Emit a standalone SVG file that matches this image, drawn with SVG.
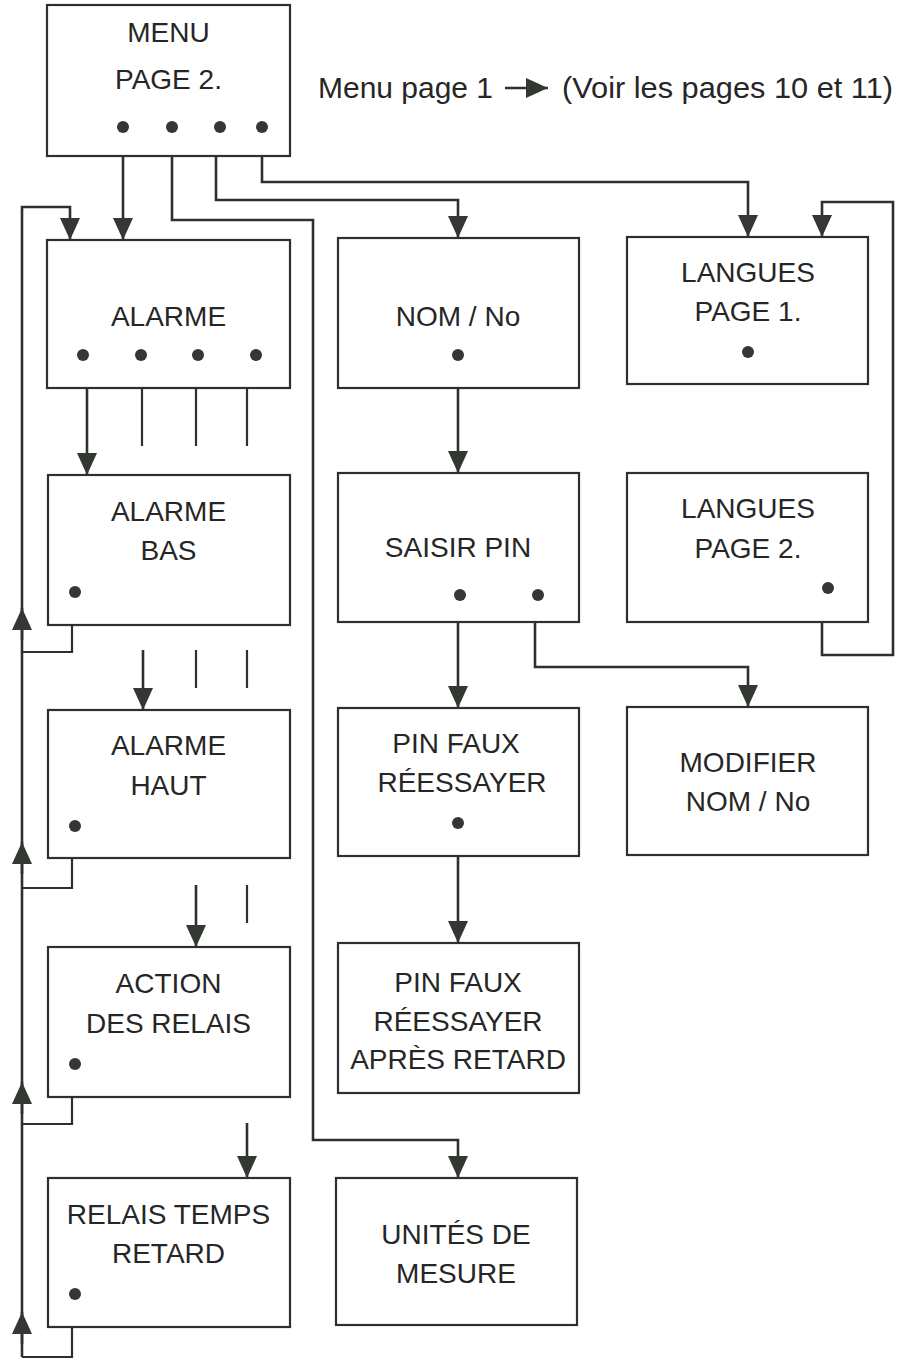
<svg xmlns="http://www.w3.org/2000/svg" width="899" height="1358" viewBox="0 0 899 1358">
<defs>
<style>
.box{fill:#fff;stroke:#2f2f2f;stroke-width:2.2}
.t{font-family:"Liberation Sans",Arial,sans-serif;font-size:28px;fill:#262626;text-anchor:middle}
.tt{font-family:"Liberation Sans",Arial,sans-serif;font-size:30px;fill:#262626}
.dot{fill:#333833}
.ln{fill:none;stroke:#2f2f2f;stroke-width:2.2}
.ar{fill:none;stroke:#2f2f2f;stroke-width:2.6;marker-end:url(#ah)}
</style>
<marker id="ah" viewBox="0 0 22 20" refX="22" refY="10" markerWidth="22" markerHeight="20" markerUnits="userSpaceOnUse" orient="auto">
<path d="M0,0 L22,10 L0,20 z" fill="#333833"/>
</marker>
</defs>
<rect width="899" height="1358" fill="#fff"/>

<g id="connectors">
<path class="ar" d="M123,156 V240"/>
<path class="ar" d="M172,156 V220 H313 V1140 H458 V1178"/>
<path class="ar" d="M216,156 V200 H458 V238"/>
<path class="ar" d="M262,156 V182 H748 V237"/>
<path class="ar" d="M822,622 V655 H893 V202 H822 V237"/>
<path class="ar" d="M22,1357 V207 H70 V240"/>
<path class="ln" d="M72,625 V652 H22"/>
<path class="ln" d="M72,858 V888 H22"/>
<path class="ln" d="M72,1097 V1124 H22"/>
<path class="ln" d="M72,1327 V1357 H22"/>
<path class="ar" d="M22,640 V608"/>
<path class="ar" d="M22,874 V842"/>
<path class="ar" d="M22,1114 V1082"/>
<path class="ar" d="M22,1344 V1312"/>
<path class="ar" d="M87,388 V475"/>
<path class="ln" d="M142,388 V446 M196,388 V446 M247,388 V446"/>
<path class="ar" d="M143,650 V710"/>
<path class="ln" d="M196,650 V688 M247,650 V688"/>
<path class="ar" d="M196,885 V947"/>
<path class="ln" d="M247,885 V923"/>
<path class="ar" d="M247,1123 V1178"/>
<path class="ar" d="M458,388 V473"/>
<path class="ar" d="M458,622 V708"/>
<path class="ar" d="M535,622 V667 H748 V707"/>
<path class="ar" d="M458,856 V943"/>
<path class="ar" d="M505,88 H548"/>
</g>

<g id="top-note">
<text class="tt" x="318" y="98" textLength="175" lengthAdjust="spacingAndGlyphs">Menu page 1</text>
<text class="tt" x="562" y="98" textLength="331" lengthAdjust="spacingAndGlyphs">(Voir les pages 10 et 11)</text>
</g>

<g id="menu">
<rect class="box" x="47" y="5" width="243" height="151"/>
<text class="t" x="168.5" y="42">MENU</text>
<text class="t" x="168.5" y="89">PAGE 2.</text>
<circle class="dot" cx="123" cy="127" r="6"/>
<circle class="dot" cx="172" cy="127" r="6"/>
<circle class="dot" cx="220" cy="127" r="6"/>
<circle class="dot" cx="262" cy="127" r="6"/>
</g>

<g id="alarme">
<rect class="box" x="47" y="240" width="243" height="148"/>
<text class="t" x="168.5" y="326">ALARME</text>
<circle class="dot" cx="83" cy="355" r="6"/>
<circle class="dot" cx="141" cy="355" r="6"/>
<circle class="dot" cx="198" cy="355" r="6"/>
<circle class="dot" cx="256" cy="355" r="6"/>
</g>

<g id="alarme-bas">
<rect class="box" x="48" y="475" width="242" height="150"/>
<text class="t" x="168.5" y="521">ALARME</text>
<text class="t" x="168.5" y="560">BAS</text>
<circle class="dot" cx="75" cy="592" r="6"/>
</g>

<g id="alarme-haut">
<rect class="box" x="48" y="710" width="242" height="148"/>
<text class="t" x="168.5" y="755">ALARME</text>
<text class="t" x="168.5" y="795">HAUT</text>
<circle class="dot" cx="75" cy="826" r="6"/>
</g>

<g id="action-relais">
<rect class="box" x="48" y="947" width="242" height="150"/>
<text class="t" x="168.5" y="993">ACTION</text>
<text class="t" x="168.5" y="1033">DES RELAIS</text>
<circle class="dot" cx="75" cy="1064" r="6"/>
</g>

<g id="relais-temps">
<rect class="box" x="48" y="1178" width="242" height="149"/>
<text class="t" x="168.5" y="1224">RELAIS TEMPS</text>
<text class="t" x="168.5" y="1263">RETARD</text>
<circle class="dot" cx="75" cy="1294" r="6"/>
</g>

<g id="nom-no">
<rect class="box" x="338" y="238" width="241" height="150"/>
<text class="t" x="458" y="326">NOM / No</text>
<circle class="dot" cx="458" cy="355" r="6"/>
</g>

<g id="saisir-pin">
<rect class="box" x="338" y="473" width="241" height="149"/>
<text class="t" x="458" y="557">SAISIR PIN</text>
<circle class="dot" cx="460" cy="595" r="6"/>
<circle class="dot" cx="538" cy="595" r="6"/>
</g>

<g id="pin-faux">
<rect class="box" x="338" y="708" width="241" height="148"/>
<text class="t" x="456" y="753">PIN FAUX</text>
<text class="t" x="462" y="792">RÉESSAYER</text>
<circle class="dot" cx="458" cy="823" r="6"/>
</g>

<g id="pin-faux-retard">
<rect class="box" x="338" y="943" width="241" height="150"/>
<text class="t" x="458" y="992">PIN FAUX</text>
<text class="t" x="458" y="1031">RÉESSAYER</text>
<text class="t" x="458" y="1069">APRÈS RETARD</text>
</g>

<g id="unites">
<rect class="box" x="336" y="1178" width="241" height="147"/>
<text class="t" x="456" y="1244">UNITÉS DE</text>
<text class="t" x="456" y="1283">MESURE</text>
</g>

<g id="langues-1">
<rect class="box" x="627" y="237" width="241" height="147"/>
<text class="t" x="748" y="282">LANGUES</text>
<text class="t" x="748" y="321">PAGE 1.</text>
<circle class="dot" cx="748" cy="352" r="6"/>
</g>

<g id="langues-2">
<rect class="box" x="627" y="473" width="241" height="149"/>
<text class="t" x="748" y="518">LANGUES</text>
<text class="t" x="748" y="558">PAGE 2.</text>
<circle class="dot" cx="828" cy="588" r="6"/>
</g>

<g id="modifier">
<rect class="box" x="627" y="707" width="241" height="148"/>
<text class="t" x="748" y="772">MODIFIER</text>
<text class="t" x="748" y="811">NOM / No</text>
</g>
</svg>
